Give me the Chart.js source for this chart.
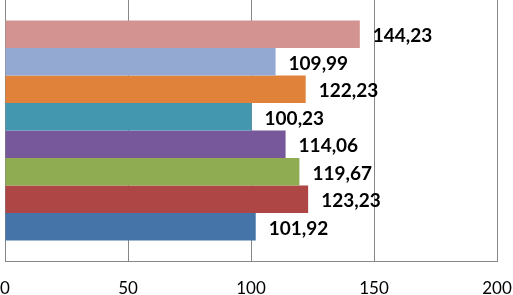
<!DOCTYPE html>
<html>
<head>
<meta charset="utf-8">
<script src="https://cdn.jsdelivr.net/npm/chart.js@4"></script>
<style>
  body { margin: 0; background: #fff; }
</style>
</head>
<body>
<canvas id="chart" width="513" height="295"></canvas>
<script>
// top to bottom, as drawn
const seriesValues = [144.23, 109.99, 122.23, 100.23, 114.06, 119.67, 123.23, 101.92];
const seriesColors = ["#d39391", "#93a9d2", "#e0823a", "#4398b0", "#77589a", "#8fac53", "#ad4644", "#4474a8"];
const xTicks = [0, 50, 100, 150, 200];

const valueLabels = {
  id: "valueLabels",
  afterDatasetsDraw(chart) {
    const ctx = chart.ctx;
    ctx.save();
    ctx.font = "bold 19px Lato";
    ctx.fillStyle = "#000";
    ctx.textBaseline = "middle";
    ctx.textAlign = "left";
    chart.data.datasets.forEach((ds, i) => {
      const bar = chart.getDatasetMeta(i).data[0];
      const text = ds.data[0].toFixed(2).replace(".", ",");
      ctx.fillText(text, bar.x + 13, bar.y + 2);
    });
    ctx.restore();
  },
};

new Chart(document.getElementById("chart"), {
  type: "bar",
  data: {
    labels: [""],
    datasets: seriesValues.map((v, i) => ({
      data: [v],
      backgroundColor: seriesColors[i],
      borderWidth: 0,
    })),
  },
  options: {
    indexAxis: "y",
    responsive: false,
    animation: false,
    categoryPercentage: 0.843,
    barPercentage: 1,
    layout: {
      padding: { left: 5, right: 16, top: 0, bottom: 0 },
    },
    plugins: {
      legend: { display: false },
      tooltip: { enabled: false },
    },
    scales: {
      y: { display: false },
      x: {
        min: 0,
        max: 200,
        afterBuildTicks(axis) {
          axis.ticks = xTicks.map((v) => ({ value: v }));
        },
        afterFit(axis) {
          axis.height = 34;
          axis.paddingLeft = 0;
          axis.paddingRight = 0;
        },
        grid: { color: "#878787", drawTicks: false },
        border: { color: "#878787" },
        ticks: {
          color: "#000",
          padding: 17,
          maxRotation: 0,
          font: { family: "Lato", size: 17 },
        },
      },
    },
  },
  plugins: [valueLabels],
});
</script>
</body>
</html>
